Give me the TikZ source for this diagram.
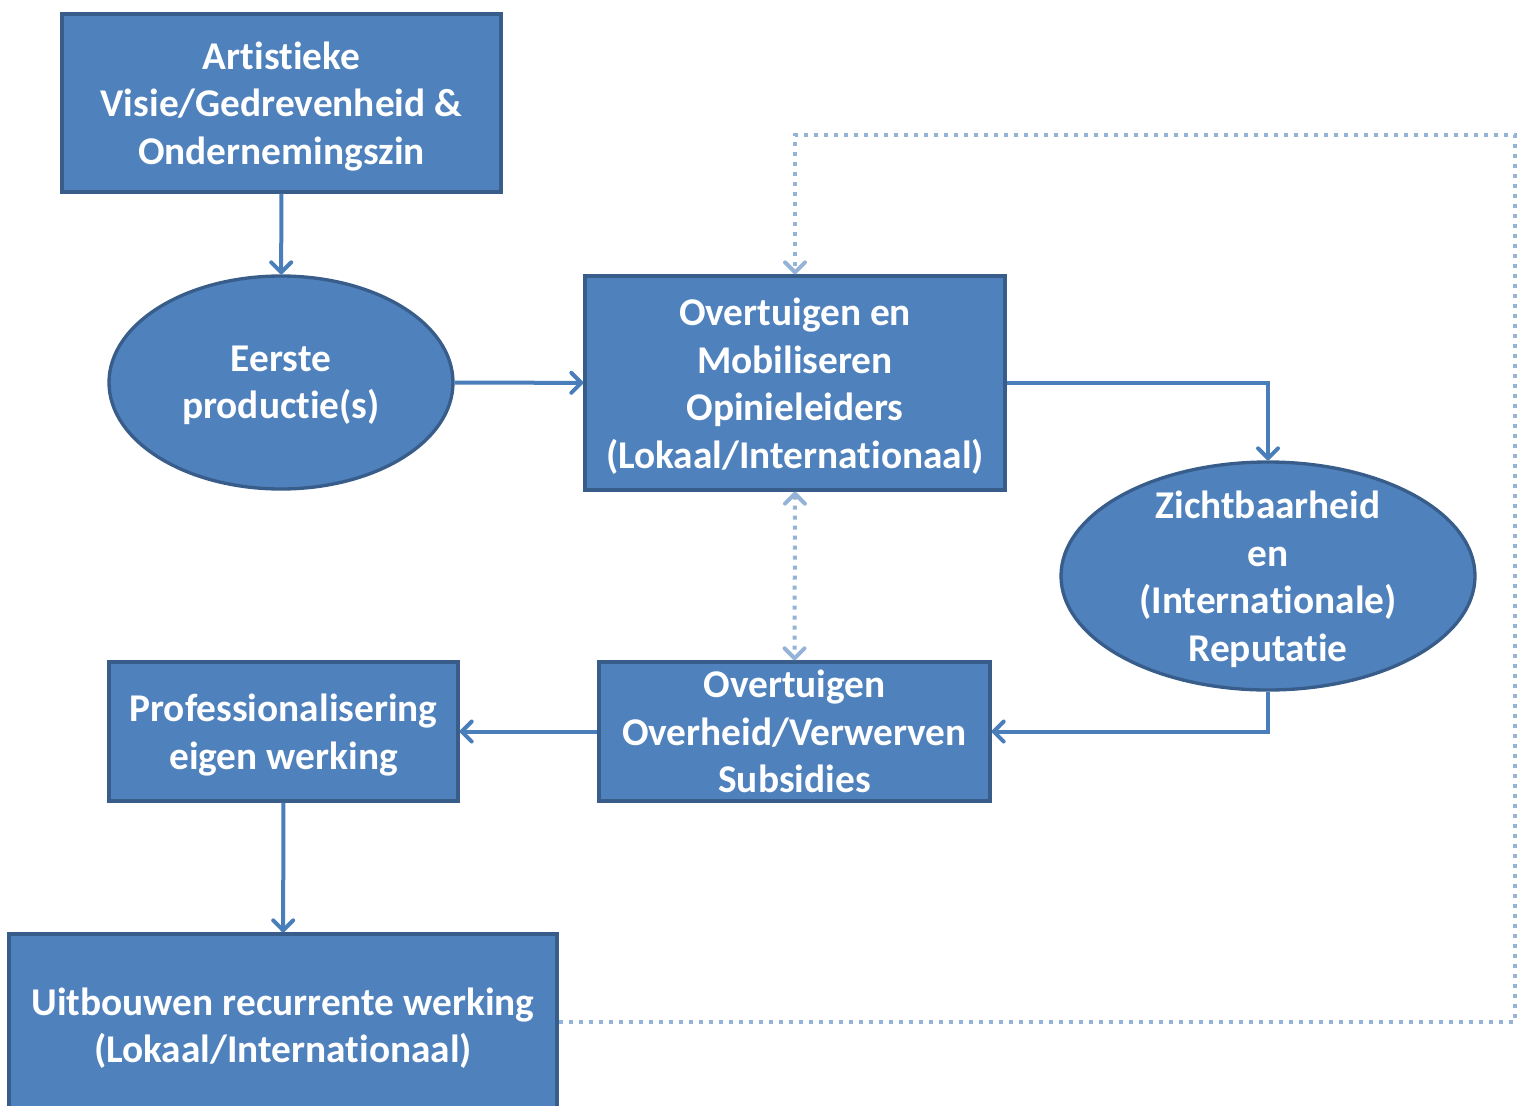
\documentclass[tikz,border=0pt]{standalone}
\usepackage{fontspec}
\setmainfont[Ligatures=NoCommon]{Carlito}
\usetikzlibrary{arrows.meta,shapes.geometric}
\definecolor{boxfill}{RGB}{79,129,189}
\definecolor{boxline}{RGB}{56,93,138}
\definecolor{linkblue}{RGB}{74,126,187}
\definecolor{dotblue}{RGB}{149,179,215}

\begin{document}
\begin{tikzpicture}[x=0.75pt,y=0.75pt,yscale=-1,xscale=1,
    blok/.style={draw=boxline, fill=boxfill, line width=2.5pt, rectangle, inner sep=0pt, text depth=0pt, text=white, align=center, font=\fontsize{29.5}{35.6}\selectfont\bfseries},
    ovaal/.style={blok, ellipse, inner sep=-15pt},
    pijl/.style={draw=linkblue, line width=3pt, -{Straight Barb[length=7.5pt,width=15pt,round]}},
    stippel/.style={draw=dotblue, line width=3pt, dash pattern=on 3pt off 4.5pt, {Straight Barb[length=7.5pt,width=15pt,round]}-{Straight Barb[length=7.5pt,width=15pt,round]}}]
    \useasboundingbox (0,0) rectangle (1525,1106);

    % Text Node
    \node [blok, minimum width=329.25pt, minimum height=133.5pt] (visie) at (281.5,103) {Artistieke\\Visie/Gedrevenheid \&\\Ondernemingszin};
    % Text Node
    \node [ovaal, minimum width=258pt, minimum height=159.75pt] (eerste) at (281,382.5) {Eerste\\productie(s)};
    % Text Node
    \node [blok, minimum width=315pt, minimum height=160.5pt] (mob) at (795,383) {Overtuigen en\\Mobiliseren\\Opinieleiders\\(Lokaal/Internationaal)};
    % Text Node
    \node [ovaal, minimum width=310.5pt, minimum height=171pt] (zicht) at (1268,576) {Zichtbaarheid\\en\\(Internationale)\\Reputatie};
    % Text Node
    \node [blok, minimum width=293.25pt, minimum height=104.25pt] (overheid) at (794.5,731.5) {Overtuigen\\Overheid/Verwerven\\Subsidies};
    % Text Node
    \node [blok, minimum width=261.75pt, minimum height=104.25pt] (prof) at (283.5,731.5) {Professionalisering\\eigen werking};
    % Text Node
    \node [blok, minimum width=411pt, minimum height=136.5pt] (uit) at (283,1025) {Uitbouwen recurrente werking\\(Lokaal/Internationaal)};

    \coordinate (hoekA) at (1515,1022);
    \coordinate (hoekB) at (1515,135);

    % Connection
    \draw [pijl] (visie) -- (eerste);
    % Connection
    \draw [pijl] (eerste) -- (mob);
    % Connection
    \draw [pijl] (mob.east) -| (zicht.north);
    % Connection
    \draw [pijl] (zicht.south) |- (overheid.east);
    % Connection
    \draw [pijl] (overheid) -- (prof);
    % Connection
    \draw [pijl] (prof) -- (uit);
    % Connection
    \draw [stippel] (mob.south) -- (overheid.north);
    % Connection
    \draw [stippel, -{Straight Barb[length=7.5pt,width=15pt,round]}] (uit.east |- hoekA) -- (hoekA) -- (hoekB) -- (mob.north |- hoekB) -- (mob.north);

\end{tikzpicture}
\end{document}
